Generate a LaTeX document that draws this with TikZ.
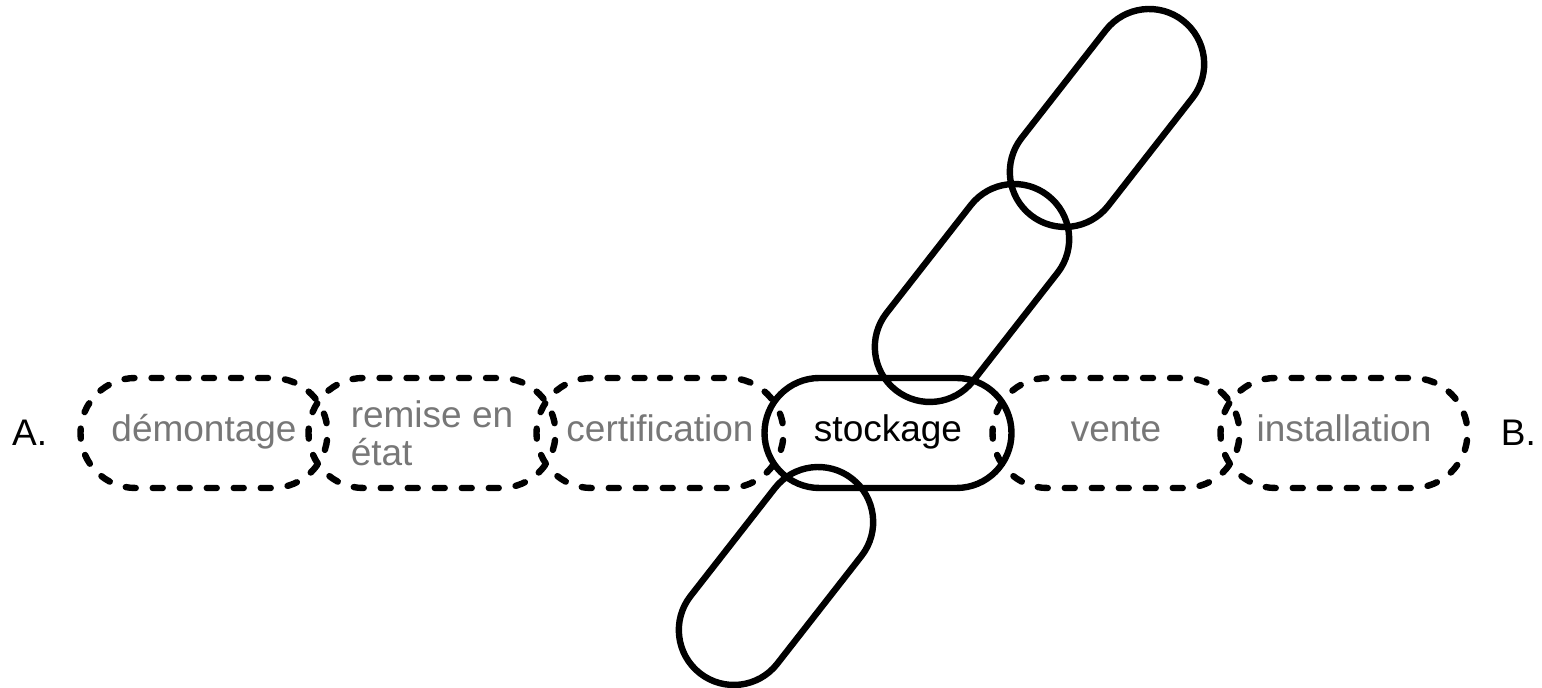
\documentclass[tikz,border=0pt]{standalone}
\usepackage{fontspec}
\setmainfont{Liberation Sans}
\usetikzlibrary{positioning,shapes.misc}
\definecolor{labelgray}{HTML}{777777}

\begin{document}
\begin{tikzpicture}[x=0.5pt, y=0.5pt, font=\fontsize{18.5}{19}\selectfont,
   link/.style={rounded rectangle, draw, line width=3.2pt,
     minimum width=123.5pt, minimum height=55pt, inner sep=0pt, outer sep=0pt,
     text height=13.2pt, text depth=4.2pt},
   weak/.style={dash pattern=on 5pt off 8.5pt, line cap=round, text=labelgray}]

  \useasboundingbox (0,0) rectangle (1542,688);

  % chaine horizontale
  \node [link, weak] (demontage) at (204,255) {démontage};
  \node [link, weak, right=-9.5pt of demontage, align=left,
    text height={}, text depth={}] (remise) {remise en\\état};
  \node [link, weak, right=-9.5pt of remise] (certif) {certification};
  \node [link, right=-9.5pt of certif] (stockage) {stockage};
  \node [link, weak, right=-9.5pt of stockage] (vente) {vente};
  \node [link, weak, right=-9.5pt of vente] (install) {installation};

  \node [inner sep=0pt, left=16.5pt of demontage] (A) {A.};
  \node [inner sep=0pt, right=16.5pt of install] (B) {B.};

  % chaine oblique
  \node [link, rotate=52] (haut2) at (1107,570) {};
  \node [link, rotate=52] (haut1) at (972,395) {};
  \node [link, rotate=52] (bas) at (776,112) {};
\end{tikzpicture}
\end{document}
